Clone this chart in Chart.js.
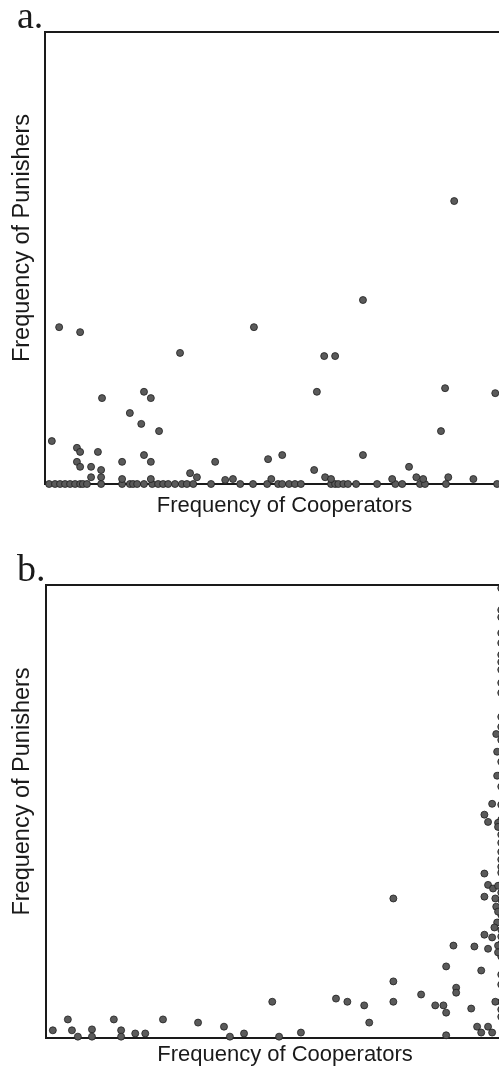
<!DOCTYPE html>
<html>
<head>
<meta charset="utf-8">
<script src="https://cdn.jsdelivr.net/npm/chart.js@4.4.1/dist/chart.umd.min.js"></script>
<style>
  html, body { margin: 0; padding: 0; background: #fff; overflow: hidden; width: 499px; height: 1068px; }
  canvas { position: absolute; left: 0; }
  #panelA { top: 0; }
  #panelB { top: 553px; }
</style>
</head>
<body>
<canvas id="panelA" width="530" height="520"></canvas>
<canvas id="panelB" width="530" height="515"></canvas>
<script>
// axis titles
const xTitle = 'Frequency of Cooperators';
const yTitle = 'Frequency of Punishers';

// panel a: cooperators (x) and punishers (y)
const coopA = [
  0.009, 0.022, 0.033, 0.044, 0.055, 0.066, 0.077, 0.083, 0.092, 0.123,
  0.169, 0.186, 0.193, 0.202, 0.217, 0.235, 0.248, 0.259, 0.270, 0.285,
  0.300, 0.311, 0.325, 0.364, 0.428, 0.456, 0.487, 0.511, 0.520, 0.535,
  0.548, 0.561, 0.627, 0.636, 0.643, 0.654, 0.664, 0.682, 0.728, 0.768,
  0.783, 0.822, 0.833, 0.879, 0.991,
  0.015, 0.125, 0.217, 0.232, 0.186, 0.211, 0.250, 0.070, 0.077, 0.116,
  0.070, 0.077, 0.101, 0.123, 0.101, 0.123, 0.169, 0.217, 0.232, 0.169,
  0.232, 0.318, 0.333, 0.373, 0.395, 0.412, 0.596, 0.877, 0.987, 0.868,
  0.489, 0.520, 0.697, 0.590, 0.614, 0.627, 0.798, 0.814, 0.829, 0.884,
  0.939, 0.496, 0.761, 0.031, 0.077, 0.458, 0.296, 0.897, 0.697, 0.612,
  0.636
];
const punA = [
  0, 0, 0, 0, 0, 0, 0, 0, 0, 0,
  0, 0, 0, 0, 0, 0, 0, 0, 0, 0,
  0, 0, 0, 0, 0, 0, 0, 0, 0, 0,
  0, 0, 0, 0, 0, 0, 0, 0, 0, 0,
  0, 0, 0, 0, 0,
  0.095, 0.190, 0.204, 0.190, 0.157, 0.133, 0.117, 0.080, 0.071, 0.071,
  0.049, 0.038, 0.038, 0.031, 0.015, 0.015, 0.049, 0.064, 0.049, 0.011,
  0.011, 0.024, 0.015, 0.049, 0.009, 0.011, 0.204, 0.212, 0.201, 0.117,
  0.055, 0.064, 0.064, 0.031, 0.015, 0.011, 0.038, 0.015, 0.011, 0.015,
  0.011, 0.011, 0.011, 0.347, 0.336, 0.347, 0.290, 0.626, 0.407, 0.283,
  0.283
];

// panel b
const coopB = [
  1, 1, 1, 1, 1, 1, 1, 1, 1, 1,
  1, 1, 1, 1, 1, 1, 1, 1, 1, 1,
  1, 1, 1, 1, 1, 1, 1, 1, 1, 1,
  1, 1, 1, 1, 1, 1, 1, 1, 1, 1,
  1,
  0.989, 0.991, 0.991, 0.980, 0.963, 0.971, 0.993, 0.993, 0.963, 0.971,
  0.982, 0.993, 0.963, 0.987, 0.989, 0.993, 0.991, 0.985, 0.963, 0.980,
  0.993, 0.895, 0.941, 0.971, 0.993, 0.879, 0.956, 0.901, 0.901, 0.987,
  0.855, 0.873, 0.879, 0.934, 0.947, 0.971, 0.956, 0.980, 0.879, 0.763,
  0.763, 0.824, 0.763, 0.699, 0.710, 0.015, 0.048, 0.057, 0.070, 0.101,
  0.101, 0.149, 0.165, 0.165, 0.196, 0.218, 0.257, 0.334, 0.391, 0.404,
  0.435, 0.497, 0.512, 0.560, 0.637, 0.662
];
const punB = [
  0.993, 0.945, 0.929, 0.894, 0.872, 0.846, 0.830, 0.813, 0.784, 0.762,
  0.709, 0.687, 0.658, 0.610, 0.581, 0.555, 0.515, 0.482, 0.464, 0.449,
  0.431, 0.411, 0.394, 0.378, 0.365, 0.338, 0.321, 0.305, 0.288, 0.272,
  0.257, 0.239, 0.224, 0.208, 0.193, 0.180, 0.140, 0.118, 0.080, 0.063,
  0.047,
  0.671, 0.632, 0.579, 0.517, 0.493, 0.477, 0.475, 0.466, 0.363, 0.338,
  0.330, 0.336, 0.312, 0.308, 0.290, 0.279, 0.255, 0.244, 0.228, 0.222,
  0.204, 0.204, 0.202, 0.197, 0.189, 0.158, 0.149, 0.111, 0.100, 0.080,
  0.072, 0.072, 0.056, 0.065, 0.025, 0.025, 0.012, 0.012, 0.006, 0.308,
  0.125, 0.096, 0.080, 0.072, 0.034, 0.017, 0.041, 0.017, 0.003, 0.019,
  0.003, 0.041, 0.017, 0.003, 0.010, 0.010, 0.041, 0.034, 0.025, 0.003,
  0.010, 0.080, 0.003, 0.012, 0.087, 0.080
];

const ink = '#1a1a1a';
const labelFont = "'Liberation Sans', Arial, sans-serif";

// panel letter ("a." / "b.") and the rotated y label, which sits a bit above centre
const panelText = {
  id: 'panelText',
  afterDraw(chart, args, opts) {
    const ctx = chart.ctx;
    const area = chart.chartArea;
    ctx.save();
    ctx.fillStyle = ink;
    ctx.font = "38px 'Liberation Serif', 'Times New Roman', serif";
    ctx.textBaseline = 'alphabetic';
    ctx.textAlign = 'left';
    ctx.fillText(opts.letter, 17, 28);

    ctx.font = '23.5px ' + labelFont;
    ctx.textBaseline = 'middle';
    ctx.textAlign = 'center';
    ctx.translate(23, (area.top + area.bottom) / 2 - 20);
    ctx.rotate(-Math.PI / 2);
    ctx.fillText(opts.yLabel, 0, 0);
    ctx.restore();
  }
};

function makePanel(id, letter, xs, ys, yWidth, xHeight, xTitlePad) {
  const ctx = document.getElementById(id);
  return new Chart(ctx, {
    type: 'scatter',
    data: {
      datasets: [{
        data: xs.map((x, i) => ({ x: x, y: ys[i] })),
        backgroundColor: '#5a5a5a',
        borderColor: '#1e1e1e',
        borderWidth: 0.8,
        pointRadius: 3.5,
        pointHoverRadius: 3.5,
        clip: false
      }]
    },
    options: {
      responsive: false,
      animation: false,
      devicePixelRatio: 1,
      layout: { padding: { left: 5, top: 32, right: 6, bottom: 0 } },
      plugins: {
        legend: { display: false },
        tooltip: { enabled: false },
        panelText: { letter: letter, yLabel: yTitle }
      },
      scales: {
        x: {
          type: 'linear', position: 'bottom', min: 0, max: 1.05,
          ticks: { display: false },
          grid: { display: false, drawTicks: false },
          border: { display: true, color: ink, width: 2 },
          title: { display: true, text: xTitle, color: ink, font: { family: labelFont, size: 22 }, padding: { top: 0, bottom: xTitlePad } },
          afterFit(scale) { scale.height = xHeight; }
        },
        xTop: {
          type: 'linear', axis: 'x', position: 'top', min: 0, max: 1.05,
          ticks: { display: false },
          grid: { display: false, drawTicks: false },
          border: { display: true, color: ink, width: 2 },
          afterFit(scale) { scale.height = 0; }
        },
        y: {
          type: 'linear', position: 'left', min: 0, max: 1,
          ticks: { display: false },
          grid: { display: false, drawTicks: false },
          border: { display: true, color: ink, width: 2 },
          afterFit(scale) { scale.width = yWidth; }
        }
      }
    },
    plugins: [panelText]
  });
}

makePanel('panelA', 'a.', coopA, punA, 40, 36, 1);
makePanel('panelB', 'b.', coopB, punB, 41, 30, 0);
</script>
</body>
</html>
